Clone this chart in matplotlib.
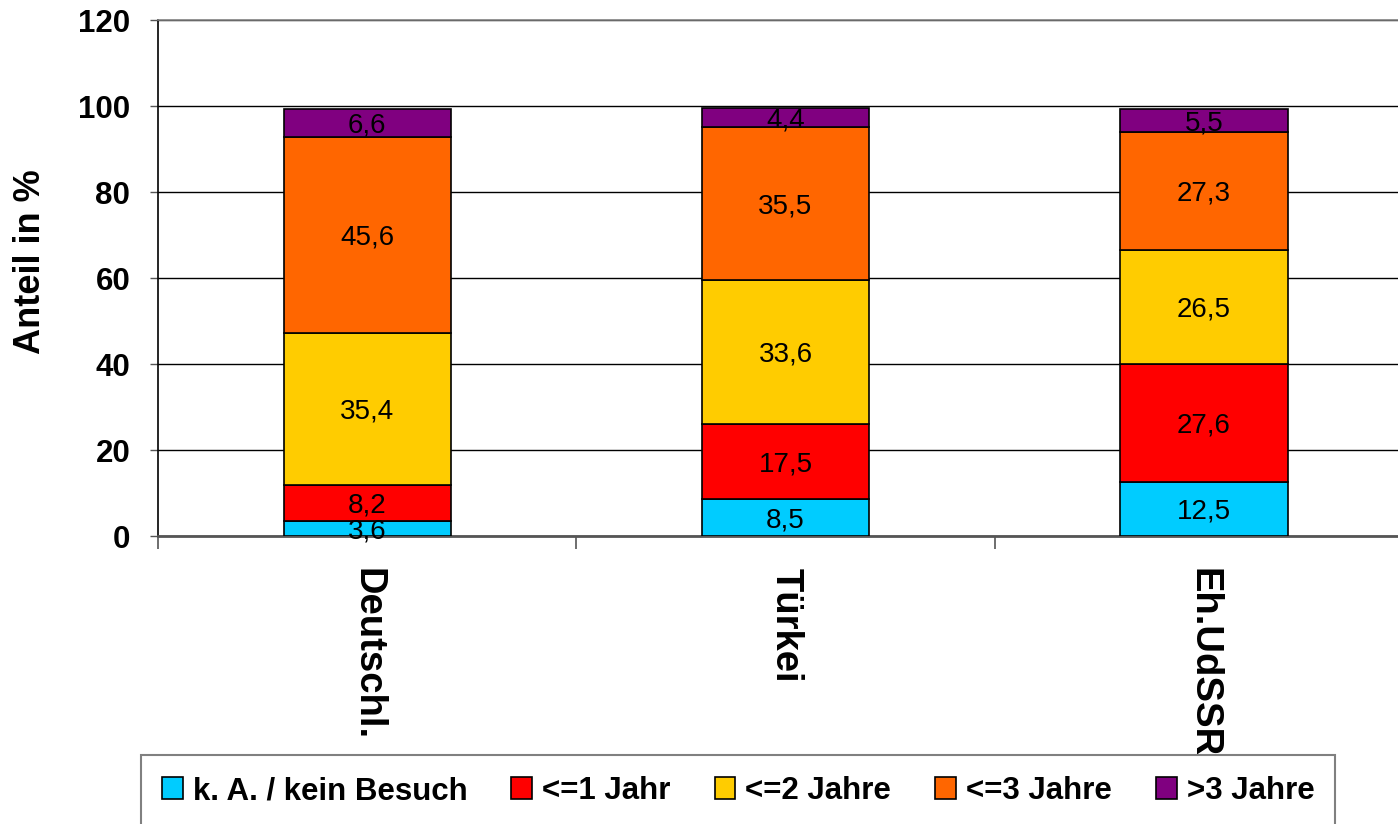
import matplotlib
matplotlib.use("Agg")
import matplotlib.pyplot as plt
from matplotlib.patches import Rectangle, Patch
import numpy as np

plt.rcParams['font.family'] = ['Liberation Sans', 'DejaVu Sans']

categories = ["Deutschl.", "Türkei", "Eh.UdSSR"]
series_names = ["k. A. / kein Besuch", "<=1 Jahr", "<=2 Jahre", "<=3 Jahre", ">3 Jahre"]
kein_besuch = [3.6, 8.5, 12.5]
bis_1_jahr = [8.2, 17.5, 27.6]
bis_2_jahre = [35.4, 33.6, 26.5]
bis_3_jahre = [45.6, 35.5, 27.3]
ueber_3_jahre = [6.6, 4.4, 5.5]
yticks = [0, 20, 40, 60, 80, 100, 120]

series = [kein_besuch, bis_1_jahr, bis_2_jahre, bis_3_jahre, ueber_3_jahre]
colors = ["#00CCFF", "#FF0000", "#FFCC00", "#FF6600", "#800080"]

W, H = 1398, 824
fig = plt.figure(figsize=(W / 100, H / 100), dpi=100)
ax = fig.add_axes([158 / W, 1 - 536 / H, (1413 - 158) / W, 516 / H])

x = np.arange(len(categories))
bottom = np.zeros(len(categories))
for vals, name, col in zip(series, series_names, colors):
    bars = ax.bar(x, vals, width=0.4, bottom=bottom, color=col, edgecolor="black",
                  linewidth=1.2, label=name, zorder=3)
    anns = ax.bar_label(bars, labels=[f"{v:.1f}".replace(".", ",") for v in vals],
                        label_type="center", fontsize=20, color="black", zorder=4)
    for a in anns:
        a.xyann = (0, -2)
    bottom += np.array(vals)

ax.set_xlim(-0.5, len(categories) - 0.5)
ax.set_ylim(0, 120)
ax.set_yticks(yticks)
ax.set_yticklabels([str(t) for t in yticks], fontsize=22.5, fontweight="bold")
ax.tick_params(axis="y", length=6, width=1, color="#555555", pad=14)

ax.set_xticks(x)
ax.set_xticklabels(categories, rotation=270, ha="center", va="top",
                   fontsize=27.5, fontweight="bold")
ax.set_xticks(np.arange(len(categories) + 1) - 0.5, minor=True)
ax.tick_params(axis="x", which="major", length=0, pad=23)
ax.tick_params(axis="x", which="minor", length=9, width=1.2, color="#555555")

ax.yaxis.grid(True, color="black", linewidth=1.0, zorder=0)
ax.set_axisbelow(True)
ax.spines["right"].set_visible(False)
ax.spines["top"].set_color("#808080")
ax.spines["top"].set_linewidth(1.2)
ax.spines["left"].set_color("black")
ax.spines["left"].set_linewidth(1.2)
ax.spines["bottom"].set_color("#555555")
ax.spines["bottom"].set_linewidth(2)

ax.set_ylabel("Anteil in %", fontsize=26, fontweight="bold", va="center")
ax.yaxis.set_label_coords((31 - 158) / 1255, (536 - 262) / 516)

# legend frame (extends past the figure bottom)
frame = Rectangle((141 / W, -0.1), (1335 - 141) / W, (824 - 755) / H + 0.1,
                  transform=fig.transFigure, facecolor="white", edgecolor="#808080",
                  linewidth=1.5, zorder=5, clip_on=False)
fig.patches.append(frame)

handles = [Patch(facecolor=c, edgecolor="black", linewidth=1.2) for c in colors]
leg = fig.legend(handles, series_names, loc="center left",
                 bbox_to_anchor=(162 / W, 1 - 791 / H), ncol=5, frameon=False,
                 prop={"size": 22.5, "weight": "bold"}, handlelength=0.67,
                 handleheight=0.67, handletextpad=0.32, columnspacing=1.4,
                 borderpad=0, borderaxespad=0)
leg.set_zorder(6)

fig.savefig("out.png", dpi=100)
